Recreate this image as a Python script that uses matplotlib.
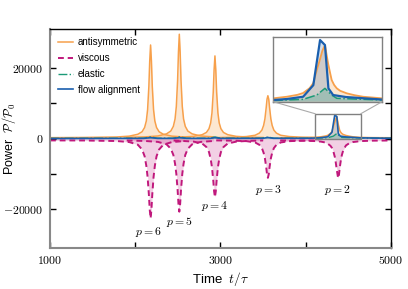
import matplotlib
matplotlib.use('Agg')
import matplotlib.pyplot as plt
from matplotlib.patches import Rectangle, ConnectionPatch
from matplotlib.ticker import FixedLocator, FuncFormatter

plt.rc('font', family=['Liberation Sans', 'DejaVu Sans'])
plt.rc('mathtext', fontset='cm')

# --- values (time in t/tau, power in P/P0) ---
t_p6 = [1000, 1400, 1780, 1930, 2030, 2080, 2110, 2130, 2145, 2160, 2170, 2180,
        2190, 2200, 2215, 2230, 2250, 2280, 2330, 2430, 2580]
anti_p6 = [300, 360, 490, 730, 1260, 1980, 3180, 5040, 8230, 14880, 22060, 26600,
           22060, 14880, 8230, 5040, 3180, 1980, 1260, 730, 490]
visc_p6 = [-480, -500, -650, -950, -1690, -3050, -4970, -7680, -10850, -15820, -20110, -22600,
           -20110, -15820, -10850, -7680, -4970, -3050, -1690, -950, -650]

t_p5 = [1900, 2117, 2267, 2367, 2417, 2447, 2467, 2482, 2497, 2507, 2517,
        2527, 2537, 2552, 2567, 2587, 2617, 2667, 2767, 2917]
anti_p5 = [400, 520, 780, 1380, 2180, 3510, 5590, 9150, 16560, 24560, 29650,
           24560, 16560, 9150, 5590, 3510, 2180, 1380, 780, 520]
visc_p5 = [-500, -640, -900, -1590, -2830, -4590, -7070, -9970, -14530, -18460, -20700,
           -18460, -14530, -9970, -7070, -4590, -2830, -1590, -900, -640]

t_p4 = [2450, 2535, 2685, 2785, 2835, 2865, 2885, 2900, 2915, 2925, 2935,
        2945, 2955, 2970, 2985, 3005, 3035, 3085, 3185, 3335, 3500]
anti_p4 = [350, 460, 670, 1140, 1780, 2840, 4480, 7300, 13180, 19520, 23500,
           19520, 13180, 7300, 4480, 2840, 1780, 1140, 670, 460, 350]
visc_p4 = [-500, -600, -820, -1360, -2360, -3770, -5760, -8090, -11740, -14890, -16600,
           -14890, -11740, -8090, -5760, -3770, -2360, -1360, -820, -600, -500]

t_p3 = [2950, 3156, 3306, 3406, 3456, 3486, 3506, 3521, 3536, 3546, 3556,
        3566, 3576, 3591, 3606, 3626, 3656, 3706, 3806, 3956, 4150]
anti_p3 = [320, 430, 620, 980, 1590, 2450, 3790, 5620, 8790, 11230, 12200,
           11230, 8790, 5620, 3790, 2450, 1590, 980, 620, 430, 320]
visc_p3 = [-480, -550, -690, -1060, -1730, -2670, -4000, -5560, -8000, -10110, -11100,
           -10110, -8000, -5560, -4000, -2670, -1730, -1060, -690, -550, -480]

t_p2 = [3700, 3980, 4112, 4178, 4230, 4258, 4290, 4308, 4325, 4341, 4352, 4365,
        4380, 4390, 4398, 4410, 4423, 4440, 4472, 4510, 4552, 4645, 4780, 5000]
anti_p2 = [270, 300, 375, 551, 760, 960, 1500, 2062, 3495, 4700, 5600, 6250,
           4267, 3200, 2392, 1850, 1477, 1200, 926, 720, 551, 375, 310, 280]
visc_p2 = [-500, -550, -670, -820, -1070, -1400, -2020, -2630, -3700, -5150, -6720, -8960,
           -11200, -10190, -8400, -6390, -4700, -3250, -1900, -1290, -950, -670, -550, -500]

t_flow = [1000, 2100, 2180, 2260, 2450, 2517, 2600, 2880, 2935, 3000, 3500, 3556, 3620,
          4000, 4112, 4178, 4258, 4308, 4341, 4365, 4382, 4405, 4468, 4645, 5000]
flow = [60, 100, 300, 100, 100, 300, 100, 100, 300, 100, 120, 350, 120,
        130, 187, 300, 551, 1830, 6802, 6250, 1477, 739, 518, 243, 120]

t_elastic = [1000, 2100, 2180, 2260, 2450, 2517, 2600, 2870, 2935, 3000, 3480, 3556, 3630,
             4000, 4112, 4258, 4325, 4365, 4398, 4423, 4645, 5000]
elastic = [100, 150, 500, 150, 150, 550, 150, 150, 500, 150, 150, 450, 150,
           130, 130, 265, 740, 1477, 740, 375, 190, 120]

p_labels = ['$p = 6$', '$p = 5$', '$p = 4$', '$p = 3$', '$p = 2$']
p_label_t = [2161, 2519, 2935, 3563, 4378]
p_label_y = [-26500, -23500, -19000, -14450, -14450]

c_anti = '#f7a04b'
c_visc = '#c0187c'
c_elastic = '#1b9a77'
c_flow = '#1a5fae'
visc_ls = (0, (3, 2))

segments = [(t_p6, anti_p6, visc_p6), (t_p5, anti_p5, visc_p5), (t_p4, anti_p4, visc_p4),
            (t_p3, anti_p3, visc_p3), (t_p2, anti_p2, visc_p2)]

fig = plt.figure(figsize=(4.08, 2.89), dpi=100)
ax = fig.add_axes([0.1225, 0.142, 0.8358, 0.756])

for t, a, v in segments:
    ax.fill_between(t, 0, v, color=c_visc, alpha=0.2, lw=0)
    ax.fill_between(t, 0, a, color=c_anti, alpha=0.25, lw=0)
for t, a, v in segments:
    ax.plot(t, v, color=c_visc, lw=1.4, ls=visc_ls)
    ax.plot(t, a, color=c_anti, lw=1.1)
ax.fill_between(t_elastic, 0, elastic, color=c_elastic, alpha=0.2, lw=0)
ax.fill_between(t_flow, 0, flow, color=c_flow, alpha=0.2, lw=0)
ax.plot(t_elastic, elastic, color=c_elastic, lw=1.0, ls='-.')
ax.plot(t_flow, flow, color=c_flow, lw=1.2)

for lab, x, y in zip(p_labels, p_label_t, p_label_y):
    ax.text(x, y, lab, fontsize=8.5, ha='center', va='center')

ax.set_xlim(1000, 5000)
ax.set_ylim(-31000, 31000)
ax.xaxis.set_major_locator(FixedLocator([1000, 2000, 3000, 4000, 5000]))
ax.yaxis.set_major_locator(FixedLocator([-20000, -10000, 0, 10000, 20000]))
ax.xaxis.set_major_formatter(FuncFormatter(lambda v, pos: '$%d$' % v if v in (1000, 3000, 5000) else ''))
ax.yaxis.set_major_formatter(FuncFormatter(lambda v, pos: '$%d$' % v if v in (-20000, 0, 20000) else ''))
ax.tick_params(direction='in', length=4, width=1, labelsize=8.5, top=True, right=True, pad=5)
for s in ['left', 'bottom']:
    ax.spines[s].set_color('#888888')
    ax.spines[s].set_linewidth(1.5)
for s in ['top', 'right']:
    ax.spines[s].set_linewidth(1.0)

ax.set_xlabel(r'Time  $t/\tau$', fontsize=9.5, labelpad=2)
fig.text(9.5 / 408, 1 - 139 / 289, r'Power  $\mathcal{P}/\mathcal{P}_0$', rotation=90,
         fontsize=9, ha='center', va='center')

handles = [plt.Line2D([], [], color=c_anti, lw=1.1),
           plt.Line2D([], [], color=c_visc, lw=1.4, ls=visc_ls),
           plt.Line2D([], [], color=c_elastic, lw=1.0, ls='-.'),
           plt.Line2D([], [], color=c_flow, lw=1.2)]
ax.legend(handles, ['antisymmetric', 'viscous', 'elastic', 'flow alignment'],
          loc='upper left', frameon=False, fontsize=7, handlelength=1.6,
          labelspacing=0.6, borderaxespad=0.4, handletextpad=0.45)

# inset around p = 2
x0, x1, y0, y1 = 4112, 4645, 0, 7100
axins = fig.add_axes([0.670, 0.648, 0.2664, 0.2228])
axins.fill_between(t_p2, 0, anti_p2, color=c_anti, alpha=0.25, lw=0)
axins.fill_between(t_flow, 0, flow, color=c_flow, alpha=0.2, lw=0)
axins.fill_between(t_elastic, 0, elastic, color=c_elastic, alpha=0.25, lw=0)
axins.plot(t_p2, anti_p2, color=c_anti, lw=1.3)
axins.plot(t_elastic, elastic, color=c_elastic, lw=1.1, ls='-.')
axins.plot(t_flow, flow, color=c_flow, lw=1.6)
axins.set_xlim(x0, x1)
axins.set_ylim(y0, y1)
axins.set_xticks([])
axins.set_yticks([])
for s in axins.spines.values():
    s.set_color('#808080')
    s.set_linewidth(1.0)

ax.add_patch(Rectangle((x0, 0), x1 - x0, 7080, fill=False, ec='#808080', lw=1.0, zorder=5))
for xa, xb in [(0, x0), (1, x1)]:
    con = ConnectionPatch(xyA=(xa, 0), coordsA=axins.transAxes, xyB=(xb, 7080), coordsB=ax.transData,
                          color='#aaaaaa', lw=0.8)
    fig.add_artist(con)

fig.savefig('out.png', dpi=100)
